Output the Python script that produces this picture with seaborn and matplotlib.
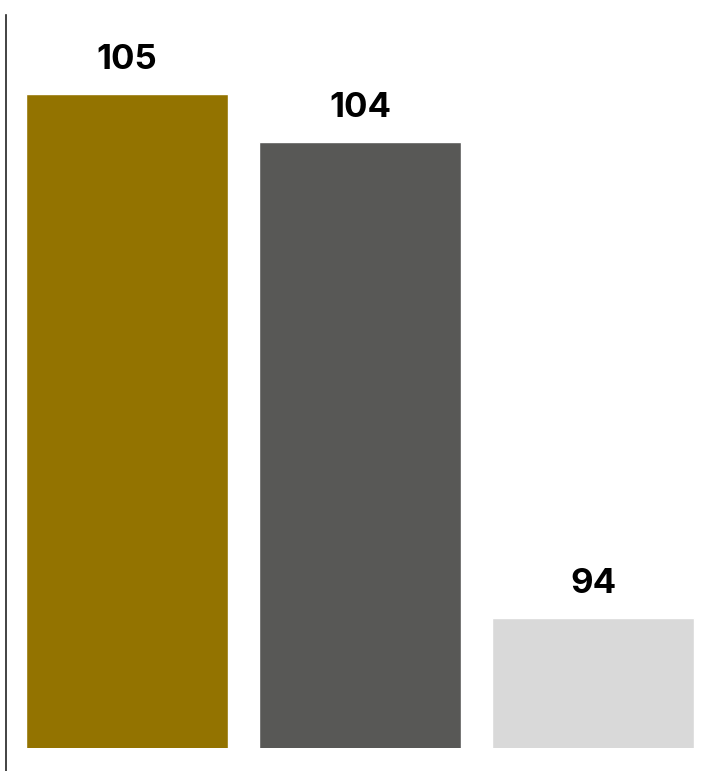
import numpy as np
import pandas as pd
import matplotlib
matplotlib.use("Agg")
import matplotlib.pyplot as plt
import seaborn as sns

# ---- data ----
categories = ["A", "B", "C"]
values = [105, 104, 94]
bar_colors = ["#937300", "#585856", "#d9d9d9"]

df = pd.DataFrame({"cat": categories, "val": values})

sns.set_style("white")
plt.rcParams["font.family"] = ["Inter", "DejaVu Sans"]

fig = plt.figure(figsize=(7.02, 7.71), dpi=100)
W, H = 702, 771
ax = fig.add_axes([6 / W, (H - 748) / H, (702 - 6) / W, (748 - 15) / H])

sns.barplot(data=df, x="cat", y="val", hue="cat", palette=bar_colors,
            width=0.867, legend=False, ax=ax, saturation=1)

ax.set_ylim(91.27, 106.67)
ax.set_xlim(-0.52, 2.466)

for c in ax.containers:
    ax.bar_label(c, fmt="%d", padding=13, fontsize=25, fontweight="bold",
                 color="black")

# styling: only a left spine that runs past the bars' bottom
for s in ["top", "right", "bottom"]:
    ax.spines[s].set_visible(False)
ax.spines["left"].set_color("#222222")
ax.spines["left"].set_linewidth(1.2)
ax.spines["left"].set_bounds(90.78, 106.67)
ax.set_xticks([])
ax.set_yticks([])
ax.set_xlabel("")
ax.set_ylabel("")
ax.patch.set_alpha(0)

fig.savefig("out.png", dpi=100)
